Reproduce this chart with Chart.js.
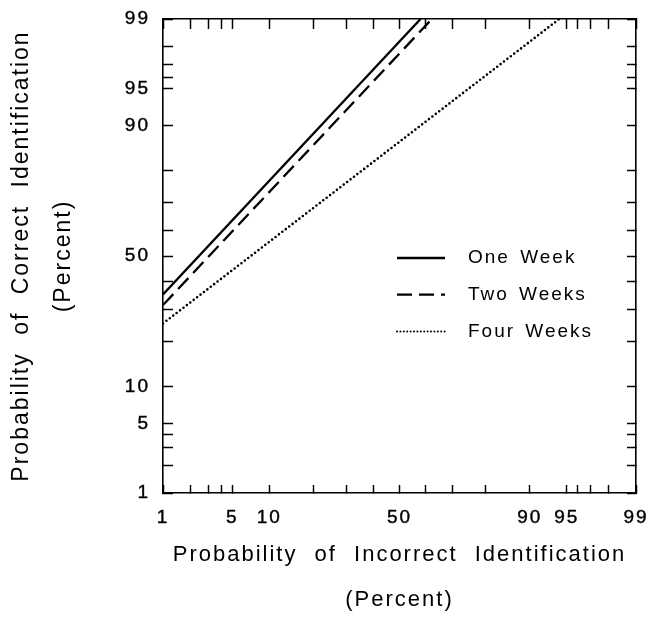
<!DOCTYPE html>
<html>
<head>
<meta charset="utf-8">
<script src="https://cdn.jsdelivr.net/npm/chart.js@4.4.1/dist/chart.umd.min.js"></script>
<style>
  html, body { margin: 0; padding: 0; background: #fff; }
  #wrap { width: 649px; height: 620px; }
</style>
</head>
<body>
<div id="wrap"><canvas id="roc"></canvas></div>
<script>
// --- data, in percent (lines are straight on normal-probability axes) ---
const seriesNames = ["One Week", "Two Weeks", "Four Weeks"];
const oneWeekFalse = [1, 58.2];
const oneWeekHits = [35.3, 99];
const twoWeeksFalse = [1, 62.5];
const twoWeeksHits = [31.5, 99];
const fourWeeksFalse = [1, 94.2];
const fourWeeksHits = [25.4, 99];

const tickPercents = [1, 2, 3, 4, 5, 10, 20, 30, 40, 50, 60, 70, 80, 90, 95, 96, 97, 98, 99];
const tickLabels = [1, 5, 10, 50, 90, 95, 99];

const FONT = '"Liberation Sans", Arial, Helvetica, sans-serif';

// inverse normal CDF (Acklam) -> probit axis
function probit(p) {
  const a = [-39.69683028665376, 220.9460984245205, -275.9285104469687, 138.3577518672690, -30.66479806614716, 2.506628277459239];
  const b = [-54.47609879822406, 161.5858368580409, -155.6989798598866, 66.80131188771972, -13.28068155288572];
  const c = [-0.007784894002430293, -0.3223964580411365, -2.400758277161838, -2.549732539343734, 4.374664141464968, 2.938163982698783];
  const d = [0.007784695709041462, 0.3224671290700398, 2.445134137142996, 3.754408661907416];
  const plow = 0.02425;
  let q, r;
  if (p < plow) {
    q = Math.sqrt(-2 * Math.log(p));
    return (((((c[0] * q + c[1]) * q + c[2]) * q + c[3]) * q + c[4]) * q + c[5]) /
      ((((d[0] * q + d[1]) * q + d[2]) * q + d[3]) * q + 1);
  }
  if (p > 1 - plow) {
    q = Math.sqrt(-2 * Math.log(1 - p));
    return -(((((c[0] * q + c[1]) * q + c[2]) * q + c[3]) * q + c[4]) * q + c[5]) /
      ((((d[0] * q + d[1]) * q + d[2]) * q + d[3]) * q + 1);
  }
  q = p - 0.5;
  r = q * q;
  return (((((a[0] * r + a[1]) * r + a[2]) * r + a[3]) * r + a[4]) * r + a[5]) * q /
    (((((b[0] * r + b[1]) * r + b[2]) * r + b[3]) * r + b[4]) * r + 1);
}

const toPoints = (fa, hit) => fa.map((f, i) => ({ x: probit(f / 100), y: probit(hit[i] / 100) }));

const zMin = probit(0.01);
const zMax = probit(0.99);

function probAxis(position, showLabels, tickLen, fitSize, extra) {
  const horizontal = position === "bottom" || position === "top";
  return Object.assign({
    type: "linear",
    position: position,
    min: zMin,
    max: zMax,
    afterBuildTicks: (axis) => {
      axis.ticks = tickPercents.map((p) => ({ value: probit(p / 100) }));
    },
    afterFit: (scale) => {
      if (horizontal) scale.height = fitSize;
      else scale.width = fitSize;
      // labels may hang over the frame, don't shrink the plot for them
      scale.paddingTop = 0;
      scale.paddingBottom = 0;
      scale.paddingLeft = 0;
      scale.paddingRight = 0;
    },
    ticks: {
      display: showLabels,
      autoSkip: false,
      maxRotation: 0,
      color: "#000",
      font: { family: FONT, size: 19 },
      textStrokeColor: "#000",
      textStrokeWidth: 0.4,
      padding: horizontal ? 21 : 23,
      callback: (v, i) => (tickLabels.includes(tickPercents[i]) ? String(tickPercents[i]) : ""),
    },
    grid: {
      drawOnChartArea: false,
      drawTicks: true,
      tickLength: -tickLen,
      tickWidth: 1.5,
      tickColor: "#000",
    },
    border: { display: true, color: "#000", width: 1.6 },
  }, extra || {});
}

// letter spacing like the old typeset figure
const spacingPlugin = {
  id: "spacing",
  beforeLayout(chart) {
    chart.ctx.letterSpacing = "2px";
    chart.ctx.wordSpacing = "9px";
  },
  beforeDraw(chart) {
    chart.ctx.letterSpacing = "2px";
    chart.ctx.wordSpacing = "9px";
  },
};

// legend inside the plot area
const innerLegend = {
  id: "innerLegend",
  afterDatasetsDraw(chart) {
    const { ctx, chartArea } = chart;
    const x0 = chartArea.left + 234;
    const x1 = x0 + 48;
    const tx = x1 + 23;
    let y = chartArea.top + 239;
    ctx.save();
    ctx.font = "19px " + FONT;
    ctx.letterSpacing = "2px";
    ctx.wordSpacing = "3px";
    ctx.textBaseline = "middle";
    ctx.fillStyle = "#000";
    chart.data.datasets.forEach((ds) => {
      ctx.beginPath();
      ctx.lineWidth = ds.legendWidth || ds.borderWidth;
      ctx.setLineDash(ds.legendDash || ds.borderDash || []);
      ctx.lineCap = ds.borderCapStyle || "butt";
      ctx.strokeStyle = ds.borderColor;
      ctx.moveTo(x0, y);
      ctx.lineTo(x1, y);
      ctx.stroke();
      ctx.setLineDash([]);
      ctx.fillText(ds.label, tx, y);
      y += 36.7;
    });
    ctx.restore();
  },
};

new Chart(document.getElementById("roc"), {
  type: "line",
  data: {
    datasets: [
      {
        label: seriesNames[0],
        data: toPoints(oneWeekFalse, oneWeekHits),
        borderColor: "#000",
        borderWidth: 2.3,
        pointRadius: 0,
      },
      {
        label: seriesNames[1],
        data: toPoints(twoWeeksFalse, twoWeeksHits),
        borderColor: "#000",
        borderWidth: 2.3,
        borderDash: [15, 7],
        pointRadius: 0,
      },
      {
        label: seriesNames[2],
        data: toPoints(fourWeeksFalse, fourWeeksHits),
        borderColor: "#000",
        borderWidth: 2.6,
        borderDash: [0, 4.3],
        borderCapStyle: "round",
        legendWidth: 2,
        legendDash: [0, 3.4],
        pointRadius: 0,
      },
    ],
  },
  options: {
    responsive: true,
    maintainAspectRatio: false,
    animation: false,
    layout: { padding: 0 },
    plugins: { legend: { display: false }, tooltip: { enabled: false } },
    scales: {
      x: probAxis("bottom", true, 8, 127, {
        title: {
          display: true,
          text: ["Probability of Incorrect Identification", "(Percent)"],
          color: "#000",
          font: { family: FONT, size: 22, lineHeight: 45 / 22 },
          padding: { top: 0, bottom: -2 },
        },
      }),
      x2: probAxis("top", false, 10, 19),
      y: probAxis("left", true, 10, 163, {
        title: {
          display: true,
          text: ["Probability of Correct Identification", "(Percent)"],
          color: "#000",
          font: { family: FONT, size: 23, lineHeight: 42 / 23 },
          padding: { top: 1, bottom: 0 },
        },
      }),
      y2: probAxis("right", false, 9, 13),
    },
  },
  plugins: [spacingPlugin, innerLegend],
});
</script>
</body>
</html>
